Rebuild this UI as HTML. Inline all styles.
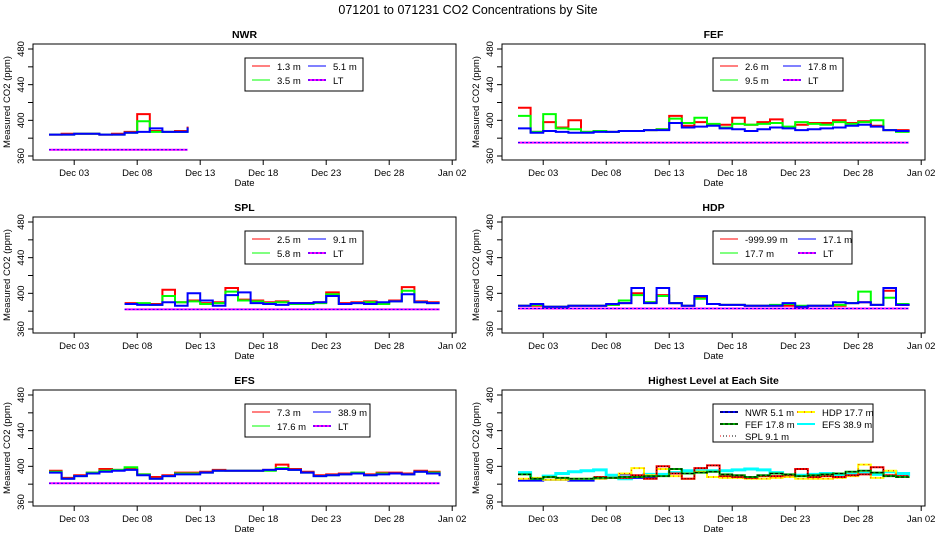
<!DOCTYPE html>
<html><head><meta charset="utf-8">
<style>
html,body{margin:0;padding:0;background:#fff;}
svg{display:block;font-family:"Liberation Sans",sans-serif;}
</style></head>
<body>
<svg id="chart" width="936" height="540" viewBox="0 0 936 540" xmlns="http://www.w3.org/2000/svg">
<text x="468" y="14" text-anchor="middle" font-size="12.5">071201  to  071231 CO2 Concentrations by Site</text>
</svg>
<script>
// ---- data (day index from Dec 01 00:00) ----
const xTickLabels = ["Dec 03","Dec 08","Dec 13","Dec 18","Dec 23","Dec 28","Jan 02"];
const xTickDays = [2,7,12,17,22,27,32];
const yTicks = [360,380,400,420,440,460,480];
const yTickLabels = ["360","","400","","440","","480"];

const nwrDays = [0,1,2,3,4,5,6,7,8,9,10,11];
const nwrRed   = [384,385,385,385,384,385,387,407,388,387,388,393];
const nwrGreen = [384,384,385,385,384,384,386,399,387,387,387,392];
const nwrBlue  = [384,384,385,385,384,384,386,387,391,387,387,392];
const nwrLT    = [367,367,367,367,367,367,367,367,367,367,367,367];

const fefDays = [0,1,2,3,4,5,6,7,8,9,10,11,12,13,14,15,16,17,18,19,20,21,22,23,24,25,26,27,28,29,30,31];
const fefRed   = [414,387,398,392,400,387,388,387,388,388,389,390,405,394,398,395,395,403,395,398,401,392,395,397,397,400,397,399,394,389,389,390];
const fefGreen = [405,387,407,391,390,387,388,387,388,388,389,390,402,397,403,396,392,396,395,396,397,393,398,396,395,398,396,398,400,389,387,389];
const fefBlue  = [391,386,388,387,386,386,387,387,388,388,389,389,397,392,393,394,391,390,388,390,392,391,389,390,391,392,394,395,393,389,388,389];
const fefLT    = [375,375,375,375,375,375,375,375,375,375,375,375,375,375,375,375,375,375,375,375,375,375,375,375,375,375,375,375,375,375,375,375];

const splDays = [6,7,8,9,10,11,12,13,14,15,16,17,18,19,20,21,22,23,24,25,26,27,28,29,30,31];
const splRed   = [389,388,388,404,390,392,389,390,406,393,392,390,391,389,389,390,401,389,390,391,389,392,407,391,390,390];
const splGreen = [388,389,387,397,390,391,388,389,402,392,391,389,390,388,388,389,399,388,389,390,388,391,403,390,389,389];
const splBlue  = [388,387,387,390,386,400,392,386,398,401,389,388,387,389,389,390,397,388,389,388,390,391,399,390,389,389];
const splLT    = [382,382,382,382,382,382,382,382,382,382,382,382,382,382,382,382,382,382,382,382,382,382,382,382,382,382];

const hdpDays = [0,1,2,3,4,5,6,7,8,9,10,11,12,13,14,15,16,17,18,19,20,21,22,23,24,25,26,27,28,29,30,31];
const hdpRed   = [386,386,385,385,386,386,386,387,389,400,390,398,389,386,395,388,387,387,386,386,386,386,385,386,386,386,389,390,387,403,387,388];
const hdpGreen = [386,387,385,385,386,386,386,387,392,398,390,397,389,386,394,388,387,387,386,386,387,388,386,386,386,387,389,402,387,395,388,389];
const hdpBlue  = [386,388,385,385,386,386,386,388,389,406,389,406,389,386,397,388,387,387,386,386,386,389,385,386,386,390,389,390,387,406,387,388];
const hdpLT    = [383,383,383,383,383,383,383,383,383,383,383,383,383,383,383,383,383,383,383,383,383,383,383,383,383,383,383,383,383,383,383,383];

const efsDays = [0,1,2,3,4,5,6,7,8,9,10,11,12,13,14,15,16,17,18,19,20,21,22,23,24,25,26,27,28,29,30,31];
const efsRed   = [395,387,390,393,397,396,397,391,388,390,393,393,394,396,395,395,395,396,402,397,394,390,391,392,393,391,393,393,392,395,394,390];
const efsGreen = [394,386,389,393,395,396,399,391,386,389,392,392,393,395,395,395,395,395,398,396,393,389,390,391,393,390,392,392,391,394,393,389];
const efsBlue  = [393,386,389,392,394,395,396,390,386,389,391,391,393,395,395,395,395,396,397,396,393,389,390,391,392,390,391,392,391,394,392,389];
const efsLT    = [381,381,381,381,381,381,381,381,381,381,381,381,381,381,381,381,381,381,381,381,381,381,381,381,381,381,381,381,381,381,381,381];

const NS="http://www.w3.org/2000/svg";
const svg=document.getElementById('chart');
function mk(tag,attrs,parent){const e=document.createElementNS(NS,tag);for(const k in attrs)e.setAttribute(k,attrs[k]);(parent||svg).appendChild(e);return e;}

const colX=[33,502], rowY=[44,217,390];
function xS(c){return d=>colX[c]+16+d*12.6;}
function yS(r){return v=>rowY[r]+112-(v-360)/120*107;}

function panel(c,r,title,name){
  const g=mk('g',{});
  
  
  const L=colX[c],T=rowY[r],W=423,H=116,x=xS(c),y=yS(r);
  const t=mk('text',{x:L+W/2,y:T-6,'text-anchor':'middle','font-size':'10.5','font-weight':'bold'},g);t.textContent=title;
  
  const b=mk('rect',{x:L,y:T,width:W,height:H,fill:'none',stroke:'#000','stroke-width':1},g);
  
  yTicks.forEach((v,i)=>{
    mk('line',{x1:L-5,x2:L,y1:y(v),y2:y(v),stroke:'#000'},g);
    if(yTickLabels[i]){const tl=mk('text',{x:0,y:0,transform:`translate(${L-9},${y(v)}) rotate(-90)`,'text-anchor':'middle','font-size':'9.5'},g);tl.textContent=yTickLabels[i];
      }
  });
  xTickDays.forEach((d,i)=>{
    mk('line',{x1:x(d),x2:x(d),y1:T+H,y2:T+H+5,stroke:'#000'},g);
    const tl=mk('text',{x:x(d),y:T+H+16,'text-anchor':'middle','font-size':'9.5'},g);tl.textContent=xTickLabels[i];
    
  });
  const xl=mk('text',{x:L+W/2,y:T+H+26,'text-anchor':'middle','font-size':'9.5'},g);xl.textContent='Date';
  
  const yl=mk('text',{x:0,y:0,transform:`translate(${L-23},${T+H/2}) rotate(-90)`,'text-anchor':'middle','font-size':'9.5'},g);yl.textContent='Measured CO2 (ppm)';
  
  return {g,x,y};
}
function line(p,days,vals,style,nm){
  let pts=[];
  days.forEach((d,i)=>{
    const X=p.x(d).toFixed(1), Y=p.y(vals[i]).toFixed(1);
    if(i>0){pts.push(X+','+p.y(vals[i-1]).toFixed(1));}
    pts.push(X+','+Y);
  });
  const a=Object.assign({points:pts.join(' '),fill:'none','stroke-linejoin':'miter'},style);
  const e=mk('polyline',a,p.g);
  
  
  return e;
}
function legend(c,r,x0,w,h,entries,name){
  const g=mk('g',{});
  
  
  const T=rowY[r]+14;
  mk('rect',{x:x0,y:T,width:w,height:h,fill:'#fff',stroke:'#000'},g);
  entries.forEach(e=>{
    const lx=x0+e[0], ly=T+e[1];
    e[3].forEach(s=>mk('line',Object.assign({x1:lx,x2:lx+18,y1:ly-3,y2:ly-3},s),g));
    const t=mk('text',{x:lx+25,y:ly+1,'font-size':'9.5'},g);t.textContent=e[2];
    
  });
}
const R={stroke:'#ff0000','stroke-width':2}, G={stroke:'#00ff00','stroke-width':2}, B={stroke:'#0000ff','stroke-width':2};
const LT1={stroke:'#ff00ff','stroke-width':2}, LT2={stroke:'#0000ff','stroke-width':1,'stroke-dasharray':'2,2'};

function std(c,r,title,name,days,red,green,blue,lt,labels,lx,lw,col2){
  const p=panel(c,r,title,name);
  line(p,days,lt,LT1,name+'-lt-line');line(p,days,lt,LT2,name+'-lt-line-dash');
  line(p,days,red,R,name+'-series-1');line(p,days,green,G,name+'-series-2');line(p,days,blue,B,name+'-series-3');
  legend(c,r,lx,lw,33,[[7,11,labels[0],[{stroke:'#ff0000'}]],[7,25,labels[1],[{stroke:'#00ff00'}]],
    [col2,11,labels[2],[{stroke:'#0000ff'}]],[col2,25,'LT',[{stroke:'#ff00ff','stroke-width':2},{stroke:'#0000ff','stroke-dasharray':'2,2'}]]],name);
}
std(0,0,'NWR','nwr',nwrDays,nwrRed,nwrGreen,nwrBlue,nwrLT,['1.3 m','3.5 m','5.1 m'],245,118,63);
std(1,0,'FEF','fef',fefDays,fefRed,fefGreen,fefBlue,fefLT,['2.6 m','9.5 m','17.8 m'],713,130,70);
std(0,1,'SPL','spl',splDays,splRed,splGreen,splBlue,splLT,['2.5 m','5.8 m','9.1 m'],245,118,63);
std(1,1,'HDP','hdp',hdpDays,hdpRed,hdpGreen,hdpBlue,hdpLT,['-999.99 m','17.7 m','17.1 m'],713,139,85);
std(0,2,'EFS','efs',efsDays,efsRed,efsGreen,efsBlue,efsLT,['7.3 m','17.6 m','38.9 m'],245,125,68);

// highest level panel
const hp=panel(1,2,'Highest Level at Each Site','highest');
line(hp,efsDays,efsBlue,{stroke:'#00ffff','stroke-width':3},'efs-highest');
line(hp,nwrDays,nwrBlue,{stroke:'#0000ff','stroke-width':2},'nwr-highest');
line(hp,hdpDays,hdpGreen,{stroke:'#ffff00','stroke-width':2},'hdp-highest');
line(hp,hdpDays,hdpGreen,{stroke:'#ff0000','stroke-width':1,'stroke-dasharray':'1,4'},'hdp-highest-dots');
line(hp,splDays,splBlue,{stroke:'#ff0000','stroke-width':2},'spl-highest');
line(hp,splDays,splBlue,{stroke:'#000','stroke-width':1,'stroke-dasharray':'1,2'},'spl-highest-dots');
line(hp,fefDays,fefBlue,{stroke:'#00aa00','stroke-width':2},'fef-highest');
line(hp,fefDays,fefBlue,{stroke:'#000','stroke-width':1,'stroke-dasharray':'3,2'},'fef-highest-dash');
legend(1,2,713,160,38,[
 [7,11,'NWR  5.1 m',[{stroke:'#0000ff','stroke-width':2},{stroke:'#000','stroke-dasharray':'3,2'}]],
 [7,23,'FEF  17.8 m',[{stroke:'#00aa00','stroke-width':2},{stroke:'#000','stroke-dasharray':'3,2'}]],
 [7,35,'SPL  9.1 m',[{stroke:'#000','stroke-dasharray':'1,2'},{stroke:'#ff0000','stroke-dasharray':'1,8'}]],
 [84,11,'HDP   17.7 m',[{stroke:'#ffff00','stroke-width':2},{stroke:'#ff0000','stroke-dasharray':'1,6'}]],
 [84,23,'EFS  38.9 m',[{stroke:'#00ffff','stroke-width':2}]]
],'highest');
</script>
</body></html>
